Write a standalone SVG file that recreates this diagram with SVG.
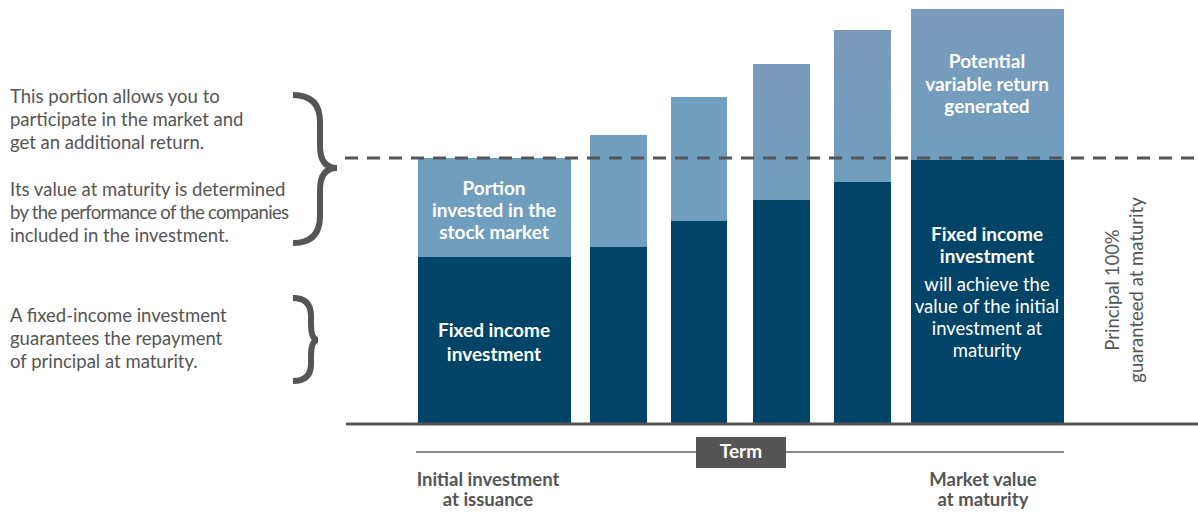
<svg xmlns="http://www.w3.org/2000/svg" width="1198" height="516" viewBox="0 0 1198 516">
<style>
.note{font-family:Lato,"Open Sans",sans-serif;font-size:18.5px;fill:#555}
.barb{font-family:Lato,"Open Sans",sans-serif;font-size:19px;font-weight:bold;fill:#fff;text-anchor:middle}
.barr{font-family:Lato,"Open Sans",sans-serif;font-size:18.5px;fill:#fff;text-anchor:middle}
.lab{font-family:Lato,"Open Sans",sans-serif;font-size:18.5px;font-weight:bold;fill:#555;text-anchor:middle}
.dark{fill:#004468}
.light{fill:#709ebe}
.brace{fill:none;stroke:#555;stroke-width:6;stroke-linecap:butt}
</style>
<defs>
<linearGradient id="lg" x1="0" y1="0" x2="0" y2="1">
<stop offset="0" stop-color="#7a9abd"/>
<stop offset="1" stop-color="#709ebe"/>
</linearGradient>
</defs>
<rect width="1198" height="516" fill="#fff"/>

<g id="notes">
<text class="note" x="10" y="103">This portion allows you to</text>
<text class="note" x="10" y="126">participate in the market and</text>
<text class="note" x="10" y="149">get an additional return.</text>
<text class="note" x="10" y="196">Its value at maturity is determined</text>
<text class="note" x="10" y="219" textLength="279" lengthAdjust="spacing">by the performance of the companies</text>
<text class="note" x="10" y="242">included in the investment.</text>
<text class="note" x="10" y="322">A fixed-income investment</text>
<text class="note" x="10" y="345">guarantees the repayment</text>
<text class="note" x="10" y="368">of principal at maturity.</text>
</g>

<g id="braces">
<path class="brace" d="M293,95 Q320,95 320,122 L320,146 Q320,168 337,168 Q320,168 320,190 L320,216 Q320,243 293,243"/>
<path class="brace" d="M293,298 Q311,298 311,316 L311,324 Q311,340 318,340 Q311,340 311,356 L311,364 Q311,381 293,381"/>
</g>

<g id="bar1">
<rect class="light" x="418" y="158" width="153" height="100"/>
<rect class="dark" x="418" y="257" width="153" height="166"/>
<text class="barb" x="494" y="195">Portion</text>
<text class="barb" x="494" y="217">invested in the</text>
<text class="barb" x="494" y="239">stock market</text>
<text class="barb" x="494" y="337">Fixed income</text>
<text class="barb" x="494" y="361">investment</text>
</g>
<g id="bar2">
<rect class="light" x="590" y="135" width="57" height="113"/>
<rect class="dark" x="590" y="247" width="57" height="176"/>
</g>
<g id="bar3">
<rect class="light" x="671" y="97" width="56" height="125"/>
<rect class="dark" x="671" y="221" width="56" height="202"/>
</g>
<g id="bar4">
<rect fill="url(#lg)" x="753" y="64" width="57" height="137"/>
<rect class="dark" x="753" y="200" width="57" height="223"/>
</g>
<g id="bar5">
<rect fill="url(#lg)" x="834" y="30" width="57" height="153"/>
<rect class="dark" x="834" y="182" width="57" height="241"/>
</g>
<g id="bar6">
<rect fill="url(#lg)" x="911" y="9" width="153" height="152"/>
<rect class="dark" x="911" y="160" width="153" height="263"/>
<text class="barb" x="987" y="68">Potential</text>
<text class="barb" x="987" y="91">variable return</text>
<text class="barb" x="987" y="113">generated</text>
<text class="barb" x="987" y="241">Fixed income</text>
<text class="barb" x="987" y="263">investment</text>
<text class="barr" x="987" y="291">will achieve the</text>
<text class="barr" x="987" y="313">value of the initial</text>
<text class="barr" x="987" y="335">investment at</text>
<text class="barr" x="987" y="357">maturity</text>
</g>

<g id="lines">
<line x1="345" y1="158" x2="1198" y2="158" stroke="#555" stroke-width="3" stroke-dasharray="13 9"/>
<line x1="346" y1="424" x2="1198" y2="424" stroke="#555" stroke-width="3"/>
<line x1="416" y1="452" x2="1064" y2="452" stroke="#888" stroke-width="2"/>
</g>

<g id="term">
<rect x="696" y="437" width="90" height="31" fill="#555"/>
<text class="barb" x="741" y="458">Term</text>
</g>

<g id="labels">
<text class="lab" x="488" y="486">Initial investment</text>
<text class="lab" x="488" y="506">at issuance</text>
<text class="lab" x="983" y="486">Market value</text>
<text class="lab" x="983" y="506">at maturity</text>
</g>

<g id="guarantee">
<text class="note" text-anchor="middle" transform="translate(1119,290) rotate(-90)">Principal 100%</text>
<text class="note" text-anchor="middle" transform="translate(1143,290) rotate(-90)">guaranteed at maturity</text>
</g>
</svg>
